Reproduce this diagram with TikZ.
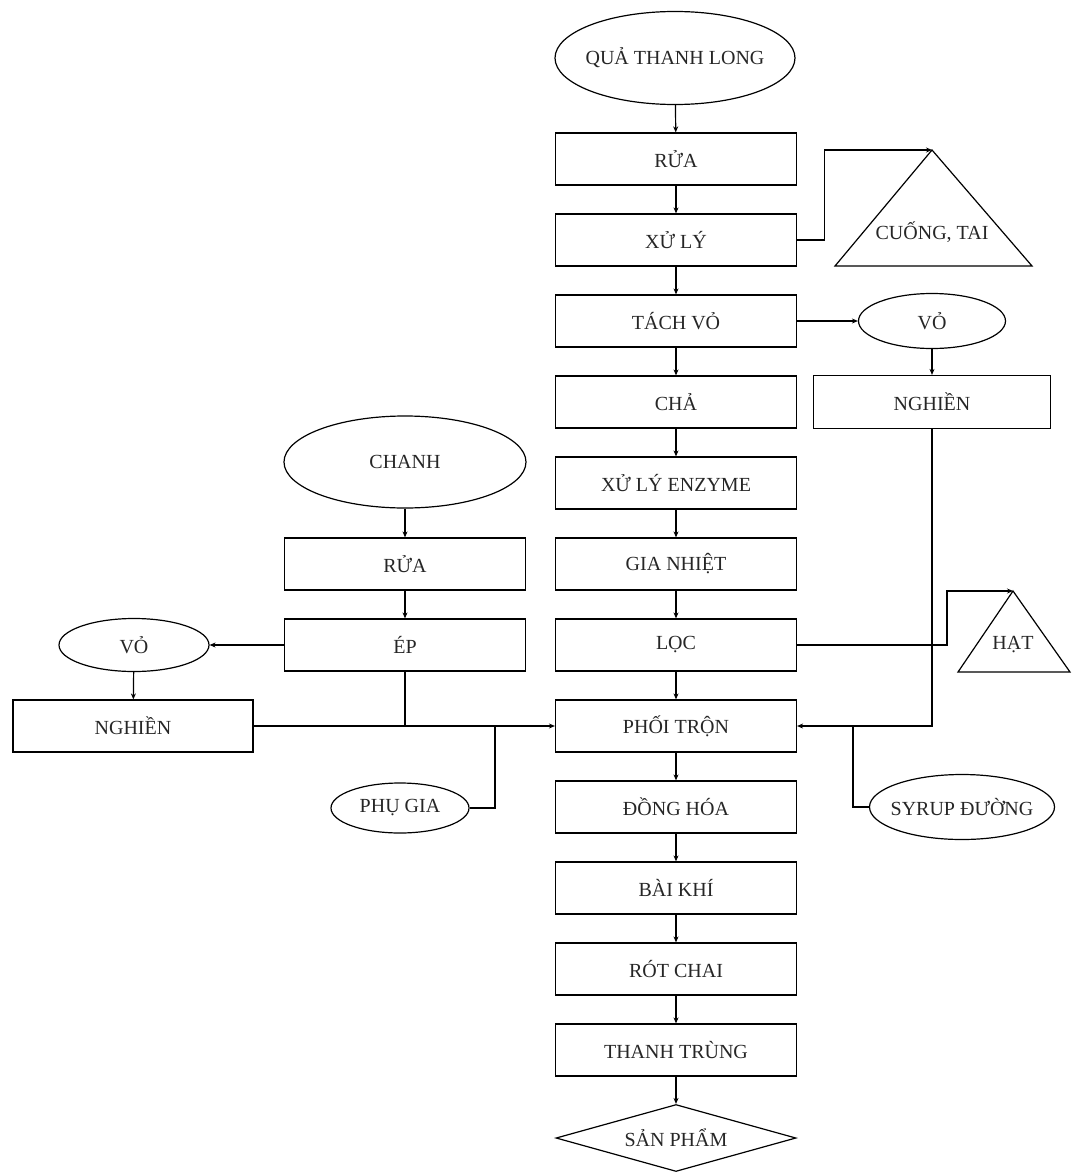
\documentclass[tikz,border=0pt]{standalone}
\usepackage{fontspec}
\setmainfont{Liberation Serif}
\usetikzlibrary{shapes.geometric,arrows.meta}
\newcommand{\zb}[1]{\makebox[0pt]{#1}}
\begin{document}
\begin{tikzpicture}[x=1pt,y=-1pt, line width=1.2pt,
  every node/.style={font=\fontsize{20}{22}\selectfont, text=black!85},
  box/.style={draw, rectangle, minimum width=241pt, minimum height=52pt, inner sep=0pt},
  ell/.style={draw, ellipse, inner sep=0pt},
  arr/.style={-{Stealth[length=6pt,width=5pt]}}]
\useasboundingbox (0,0) rectangle (1073,1175);

% main column
\node[ell, minimum width=240pt, minimum height=93pt] (qua) at (675,58) {\zb{QUẢ THANH LONG}};
\node[box] (rua) at (676,159) {RỬA};
\node[box] (xuly) at (676,240) {XỬ LÝ};
\node[box] (tach) at (676,321) {TÁCH VỎ};
\node[box] (cha) at (676,402) {CHẢ};
\node[box] (enz) at (676,483) {XỬ LÝ ENZYME};
\node[box] (gia) at (676,564) {GIA NHIỆT};
\node[box] (loc) at (676,645) {LỌC};
\node[box] (phoi) at (676,726) {PHỐI TRỘN};
\node[box] (dong) at (676,807) {ĐỒNG HÓA};
\node[box] (bai) at (676,888) {BÀI KHÍ};
\node[box] (rot) at (676,969) {RÓT CHAI};
\node[box] (thanh) at (676,1050) {THANH TRÙNG};
\node[draw, diamond, aspect=3.58, minimum width=240pt, minimum height=67pt, inner sep=0pt] (sp) at (676,1138) {\zb{SẢN PHẨM}};

\foreach \a/\b in {qua/rua, rua/xuly, xuly/tach, tach/cha, cha/enz, enz/gia, gia/loc, loc/phoi, phoi/dong, dong/bai, bai/rot, rot/thanh, thanh/sp}
  \draw[arr] (\a) -- (\b);

% right side
\coordinate (cuongtop) at (932,150);
\draw (cuongtop) -- (1032,266) -- (835,266) -- cycle;
\node (cuong) at (932,232) {CUỐNG, TAI};
\draw[arr] (xuly.east) -- ++(27,0) |- (cuongtop);

\node[ell, minimum width=147pt, minimum height=55pt] (vo) at (932,321) {\zb{VỎ}};
\node[box, minimum width=237pt, minimum height=53pt] (ngh) at (932,402) {NGHIỀN};
\draw[arr] (tach) -- (vo);
\draw[arr] (vo) -- (ngh);
\draw[arr] (ngh.south) |- (phoi.east);

\coordinate (hattop) at (1013,591);
\draw (hattop) -- (1070,672) -- (958,672) -- cycle;
\node (hat) at (1013,645) {HẠT};
\draw[arr] (loc.east) -- (947,645) |- (hattop);

\node[ell, minimum width=185pt, minimum height=65pt] (syr) at (962,807) {\zb{SYRUP ĐƯỜNG}};
\coordinate (sj) at (853,726);
\draw (syr.west) -| (sj);

% left side
\node[ell, minimum width=242pt, minimum height=92pt] (chanh) at (405,462) {\zb{CHANH}};
\node[box] (rua2) at (405,564) {RỬA};
\node[box] (ep) at (405,645) {ÉP};
\node[ell, minimum width=150pt, minimum height=53pt] (vo2) at (134,645) {\zb{VỎ}};
\node[box, minimum width=240pt] (ngh2) at (133,726) {NGHIỀN};
\node[ell, minimum width=138pt, minimum height=50pt] (phu) at (400,808) {\zb{PHỤ GIA}};

\draw[arr] (chanh) -- (rua2);
\draw[arr] (rua2) -- (ep);
\draw[arr] (ep.west) -- (vo2.east);
\draw[arr] (vo2) -- (ngh2);
\draw[arr] (ngh2.east) -- (phoi.west);
\draw (ep.south) -- (ep.south |- phoi.west);
\coordinate (pj) at (495,726);
\draw (phu.east) -| (pj);
\end{tikzpicture}
\end{document}
